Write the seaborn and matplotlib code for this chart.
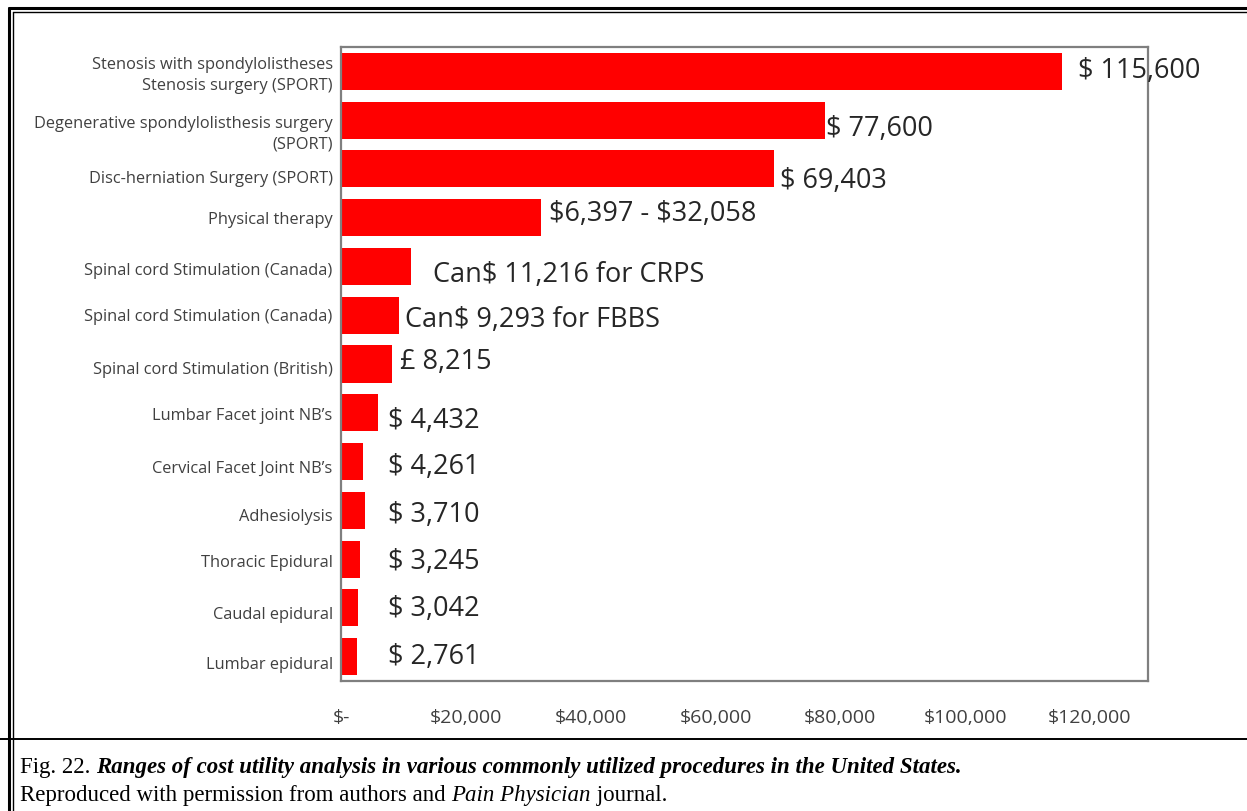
import matplotlib
matplotlib.use("Agg")
import matplotlib.pyplot as plt
import seaborn as sns
import pandas as pd
from matplotlib.lines import Line2D
from matplotlib.transforms import ScaledTranslation

# ---------------- data ----------------
procedures = [
    "Stenosis with spondylolistheses\nStenosis surgery (SPORT)",
    "Degenerative spondylolisthesis surgery\n(SPORT)",
    "Disc-herniation Surgery (SPORT)",
    "Physical therapy",
    "Spinal cord Stimulation (Canada)",
    "Spinal cord Stimulation (Canada)",
    "Spinal cord Stimulation (British)",
    "Lumbar Facet joint NB\u2019s",
    "Cervical Facet Joint NB\u2019s",
    "Adhesiolysis",
    "Thoracic Epidural",
    "Caudal epidural",
    "Lumbar epidural",
]
bar_values = [115600, 77600, 69403, 32058, 11216, 9293, 8215, 6000, 3500, 3900, 3100, 2800, 2500]
value_labels = [
    "$ 115,600", "$ 77,600", "$ 69,403", "$6,397 - $32,058",
    "Can$ 11,216 for CRPS", "Can$ 9,293 for FBBS", "\u00a3 8,215",
    "$ 4,432", "$ 4,261", "$ 3,710", "$ 3,245", "$ 3,042", "$ 2,761",
]
x_ticks = [0, 20000, 40000, 60000, 80000, 100000, 120000]
x_tick_labels = ["$-", "$20,000", "$40,000", "$60,000", "$80,000", "$100,000", "$120,000"]

# annotation placement (style, not data)
label_x = [118100, 77700, 70400, 33300, 14700, 10300, 9500, 7500, 7500, 7500, 7500, 7500, 7500]
label_dy = [0.0, 0.18, 0.25, -0.08, 0.18, 0.10, -0.04, 0.16, 0.12, 0.10, 0.06, 0.02, 0.0]
ticklabel_dy_px = [0, 10, 8, 0, 3, 0, 4, 1, 5, 5, 2, 5, 6]

df = pd.DataFrame({"key": [str(i) for i in range(len(procedures))], "value": bar_values})

sns.set_theme(style="white")
plt.rcParams["font.family"] = ["Open Sans", "DejaVu Sans"]

W, H = 1247, 811
fig = plt.figure(figsize=(W / 100, H / 100), dpi=100)
ax = fig.add_axes([341 / W, 1 - 681 / H, (1148 - 341) / W, (681 - 47) / H])

sns.barplot(data=df, y="key", x="value", orient="h", color="#FF0000",
            saturation=1, width=0.76, ax=ax, linewidth=0)

ax.set_xlim(0, 129300)
ax.set_ylim(len(procedures) - 0.5, -0.5)
ax.set_xlabel("")
ax.set_ylabel("")
ax.set_xticks(x_ticks)
ax.set_xticklabels(x_tick_labels, fontsize=14, color="#404040")
ax.set_yticks(range(len(procedures)))
ax.set_yticklabels(procedures, fontsize=11.8, color="#404040", linespacing=1.35)
ax.tick_params(axis="x", length=0, pad=20)
ax.tick_params(axis="y", length=0, pad=6)

for lab, dy in zip(ax.get_yticklabels(), ticklabel_dy_px):
    lab.set_transform(lab.get_transform() + ScaledTranslation(0, -dy / 100, fig.dpi_scale_trans))

for sp in ax.spines.values():
    sp.set_visible(True)
    sp.set_color("#7f7f7f")
    sp.set_linewidth(1.6)

for i, (txt, lx, dy) in enumerate(zip(value_labels, label_x, label_dy)):
    ax.text(lx, i + dy, txt, ha="left", va="center", fontsize=19.5, color="#262626",
            parse_math=False)

# ---------------- frame ----------------
def px_line(x0, y0, x1, y1, lw, color="black"):
    fig.add_artist(Line2D([x0 / W, x1 / W], [1 - y0 / H, 1 - y1 / H],
                          transform=fig.transFigure, lw=lw, color=color))

px_line(8.5, 7.5, W, 7.5, 2.2)
px_line(12.5, 11.5, W, 11.5, 1.0)
px_line(8.5, 7.5, 8.5, H, 2.2)
px_line(12.5, 11.5, 12.5, H, 1.0)
px_line(0, 739, W, 739, 1.4)

# ---------------- caption ----------------
serif = ["Liberation Serif", "DejaVu Serif"]
cap_size = 16.5
t1 = fig.text(20 / W, 1 - 773 / H, "Fig. 22. ", family=serif, fontsize=cap_size, va="baseline",
              color="black")
ax.annotate("Ranges of cost utility analysis in various commonly utilized procedures in the United States.",
            xy=(1, 0), xycoords=t1, va="bottom", ha="left", family=serif, fontsize=cap_size,
            style="italic", weight="bold", color="black", annotation_clip=False)
t3 = fig.text(20 / W, 1 - 801 / H, "Reproduced with permission from authors and ", family=serif,
              fontsize=cap_size, va="baseline", color="black")
t4 = ax.annotate("Pain Physician", xy=(1, 0), xycoords=t3, va="bottom", ha="left", family=serif,
                 fontsize=cap_size, style="italic", color="black", annotation_clip=False)
ax.annotate(" journal.", xy=(1, 0), xycoords=t4, va="bottom", ha="left", family=serif,
            fontsize=cap_size, color="black", annotation_clip=False)

fig.savefig("out.png", dpi=100)
